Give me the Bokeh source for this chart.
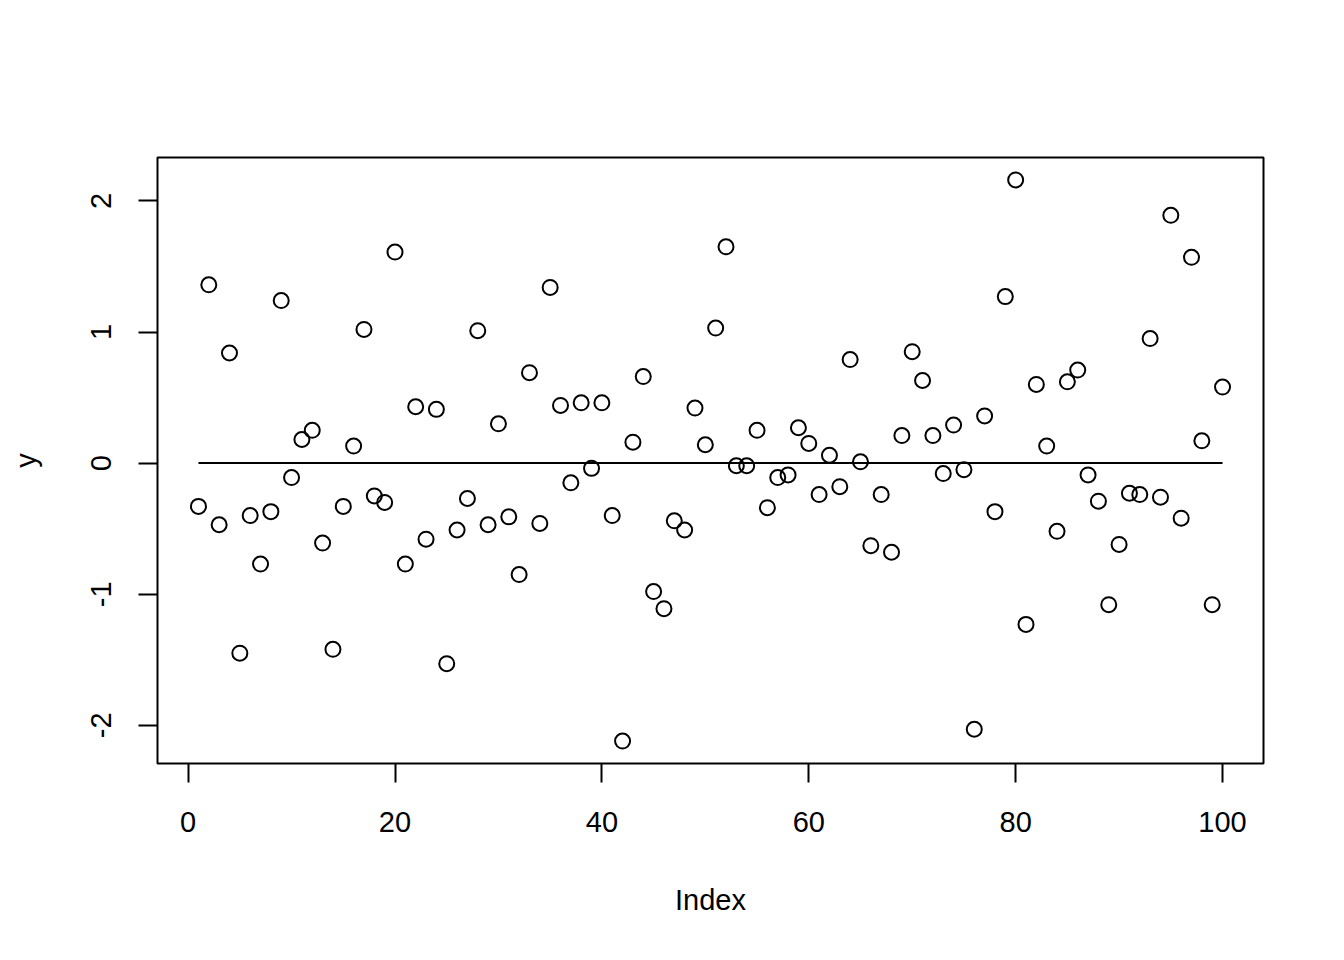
import numpy as np
from bokeh.plotting import figure
from bokeh.models import Range1d, FixedTicker
from bokeh.embed import file_html
from bokeh.resources import INLINE

index = list(range(1, 101))
y = [-0.33, 1.36, -0.47, 0.84, -1.45, -0.40, -0.77, -0.37, 1.24, -0.11,
     0.18, 0.25, -0.61, -1.42, -0.33, 0.13, 1.02, -0.25, -0.30, 1.61,
     -0.77, 0.43, -0.58, 0.41, -1.53, -0.51, -0.27, 1.01, -0.47, 0.30,
     -0.41, -0.85, 0.69, -0.46, 1.34, 0.44, -0.15, 0.46, -0.04, 0.46,
     -0.40, -2.12, 0.16, 0.66, -0.98, -1.11, -0.44, -0.51, 0.42, 0.14,
     1.03, 1.65, -0.02, -0.02, 0.25, -0.34, -0.11, -0.09, 0.27, 0.15,
     -0.24, 0.06, -0.18, 0.79, 0.01, -0.63, -0.24, -0.68, 0.21, 0.85,
     0.63, 0.21, -0.08, 0.29, -0.05, -2.03, 0.36, -0.37, 1.27, 2.16,
     -1.23, 0.60, 0.13, -0.52, 0.62, 0.71, -0.09, -0.29, -1.08, -0.62,
     -0.23, -0.24, 0.95, -0.26, 1.89, -0.42, 1.57, 0.17, -1.08, 0.58]
x_ticks = [0, 20, 40, 60, 80, 100]
y_ticks = [-2, -1, 0, 1, 2]
hline_y = 0

FONT = "Liberation Sans"
FS = "29px"

xmin, xmax = min(index), max(index)
ymin, ymax = min(y), max(y)
xpad = (xmax - xmin) * 0.04
ypad = (ymax - ymin) * 0.04

p = figure(width=1328, height=944, output_backend="svg", toolbar_location=None,
           x_range=Range1d(xmin - xpad, xmax + xpad),
           y_range=Range1d(ymin - ypad, ymax + ypad),
           min_border_left=157, min_border_right=65,
           min_border_top=157, min_border_bottom=181)

p.background_fill_color = "white"
p.border_fill_color = "white"
p.outline_line_color = "black"
p.outline_line_width = 2
p.xgrid.visible = False
p.ygrid.visible = False

p.line(x=[xmin, xmax], y=[hline_y, hline_y], line_color="black", line_width=2)
p.scatter(x=index, y=y, marker="circle", size=15, fill_color=None,
          line_color="black", line_width=2)

for ax in (p.xaxis[0], p.yaxis[0]):
    ax.axis_line_color = None
    ax.major_tick_in = 0
    ax.major_tick_out = 19
    ax.major_tick_line_width = 2
    ax.minor_tick_line_color = None
    ax.major_label_text_font = FONT
    ax.major_label_text_font_size = FS
    ax.major_label_text_color = "black"
    ax.axis_label_text_font = FONT
    ax.axis_label_text_font_size = FS
    ax.axis_label_text_font_style = "normal"
    ax.axis_label_text_color = "black"

p.xaxis[0].ticker = FixedTicker(ticks=x_ticks)
p.yaxis[0].ticker = FixedTicker(ticks=y_ticks)
p.xaxis[0].major_label_overrides = {t: str(t) for t in x_ticks}
p.yaxis[0].major_label_overrides = {t: str(t) for t in y_ticks}
p.xaxis[0].axis_label = "Index"
p.yaxis[0].axis_label = "y"
p.xaxis[0].major_label_standoff = 29
p.yaxis[0].major_label_standoff = 27
p.yaxis[0].major_label_orientation = "vertical"
p.xaxis[0].axis_label_standoff = 49
p.yaxis[0].axis_label_standoff = 47

open("out.html", "w").write(file_html(p, INLINE))
